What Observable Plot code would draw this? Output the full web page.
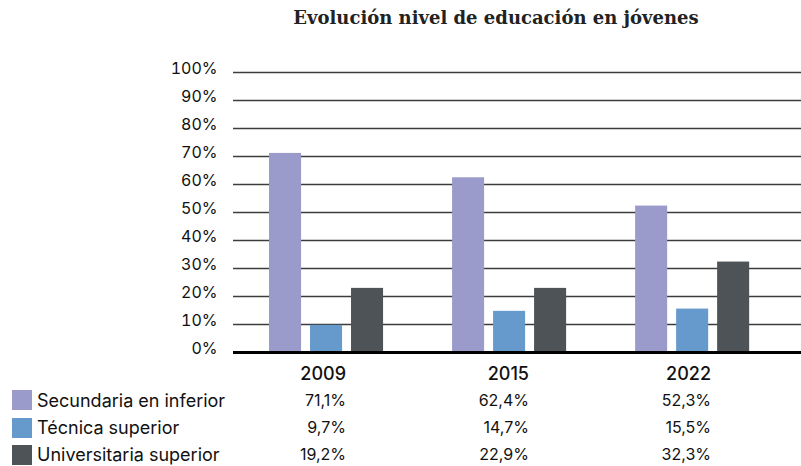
<!DOCTYPE html>
<html>
<head>
<meta charset="utf-8">
<script src="https://cdn.jsdelivr.net/npm/d3@7"></script>
<script src="https://cdn.jsdelivr.net/npm/@observablehq/plot@0.6"></script>
<style>
  html, body { margin: 0; padding: 0; background: #fff; }
  #wrap { position: relative; width: 801px; height: 466px; overflow: hidden; font-family: Inter, "Noto Sans", sans-serif; color: #111; }
  #title { position: absolute; top: 0; left: 0; width: 801px; height: 40px; box-sizing: border-box; padding-left: 191px; text-align: center; font-family: "DejaVu Serif", "Liberation Serif", serif; font-weight: bold; font-size: 18px; line-height: 36px; color: #222; }
  #chart { position: absolute; top: 40px; left: 0; }
  #table { position: absolute; top: 359.5px; left: 0; display: grid; grid-template-columns: 163px 183px 183px 182px; grid-auto-rows: 27.3px; }
  #table div { white-space: nowrap; line-height: 27.3px; font-size: 16px; }
  #table .num { text-align: right; }
  #table .yr { text-align: right; font-size: 18px; font-weight: 500; }
  #table .lab { display: flex; align-items: center; padding-left: 12px; font-size: 18px; }
  #table .sw { width: 20px; height: 20px; margin-right: 5px; flex: none; }
</style>
</head>
<body>
<div id="wrap">
  <div id="title"></div>
  <div id="chart"></div>
  <div id="table"></div>
</div>
<script>
const titleText = "Evolución nivel de educación en jóvenes";
const years = ["2009", "2015", "2022"];
const series = ["Secundaria en inferior", "Técnica superior", "Universitaria superior"];
const colors = ["#9a9acb", "#6699cc", "#4e5357"];
// bar heights as drawn in the picture (%)
const secundaria = [71.1, 62.4, 52.3];
const tecnica = [9.7, 14.7, 15.5];
const universitaria = [22.9, 22.9, 32.3];
// table labels as printed
const secundariaLabels = ["71,1%", "62,4%", "52,3%"];
const tecnicaLabels = ["9,7%", "14,7%", "15,5%"];
const universitariaLabels = ["19,2%", "22,9%", "32,3%"];
const yTicks = [0, 10, 20, 30, 40, 50, 60, 70, 80, 90, 100];

const seriesValues = [secundaria, tecnica, universitaria];
const seriesLabels = [secundariaLabels, tecnicaLabels, universitariaLabels];

document.getElementById("title").textContent = titleText;

// bar geometry within each year band (band = 114px): bar 32px, gap 9px
const insets = [
  {insetLeft: 0, insetRight: 82},
  {insetLeft: 41, insetRight: 41},
  {insetLeft: 82, insetRight: 0}
];

const barMarks = series.map((s, j) => Plot.barY(
  years.map((yr, i) => ({year: yr, series: s, value: seriesValues[j][i]})),
  {x: "year", y: "value", fill: colors[j], ...insets[j]}
));

const chart = Plot.plot({
  width: 801,
  height: 322,
  marginTop: 32,
  marginBottom: 10,
  marginLeft: 233,
  marginRight: 0,
  style: {fontFamily: "Inter, 'Noto Sans', sans-serif", background: "transparent"},
  x: {domain: years, paddingInner: 0.377, paddingOuter: 0.24, align: 0.41, axis: null, round: false, label: null},
  y: {domain: [0, 100], label: null},
  marks: [
    Plot.ruleY(yTicks.filter(d => d > 0), {stroke: "#3c3c3c", strokeWidth: 1.6}),
    ...barMarks,
    Plot.ruleY([0], {stroke: "#000", strokeWidth: 3}),
    Plot.axisY({ticks: yTicks, tickSize: 0, tickPadding: 16, tickFormat: d => d + "%", fontSize: 16, dy: -4, fill: "#111", label: null})
  ]
});
document.getElementById("chart").appendChild(chart);

// table below the chart
const table = document.getElementById("table");
const add = (cls, text) => { const d = document.createElement("div"); d.className = cls; if (text != null) d.textContent = text; table.appendChild(d); return d; };
add("", null);
years.forEach(y => add("yr", y));
series.forEach((s, j) => {
  const lab = add("lab", null);
  const sw = document.createElement("span"); sw.className = "sw"; sw.style.background = colors[j];
  const tx = document.createElement("span"); tx.textContent = s;
  lab.appendChild(sw); lab.appendChild(tx);
  seriesLabels[j].forEach(v => add("num", v));
});
</script>
</body>
</html>
